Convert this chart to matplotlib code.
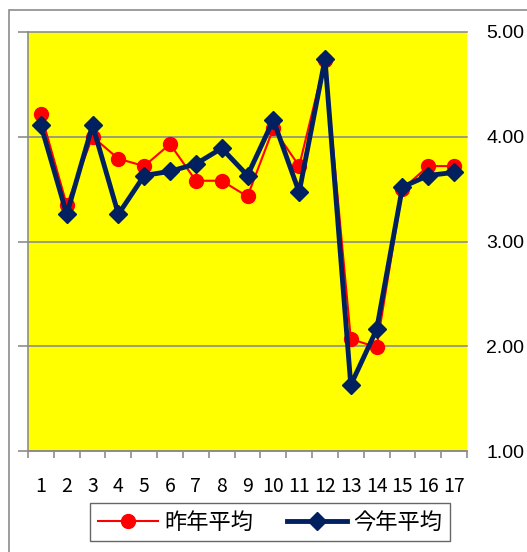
import matplotlib.pyplot as plt
import numpy as np
from matplotlib.patches import Rectangle

plt.rcParams['font.family'] = ['Noto Sans CJK JP', 'DejaVu Sans']

categories = [str(i) for i in range(1, 18)]
last_year = [4.22, 3.35, 4.00, 3.79, 3.72, 3.93, 3.58, 3.58, 3.43,
             4.08, 3.72, 4.73, 2.07, 1.99, 3.50, 3.72, 3.72]
this_year = [4.11, 3.26, 4.11, 3.26, 3.63, 3.67, 3.74, 3.89, 3.63,
             4.16, 3.47, 4.74, 1.63, 2.16, 3.52, 3.63, 3.66]
yticks = [1.0, 2.0, 3.0, 4.0, 5.0]

fig = plt.figure(figsize=(5.27, 5.52), dpi=100)
ax = fig.add_axes([28/527, 1-451/552, 439/527, 419/552])

# outer chart border (partly cut off like the original)
fig.patches.append(Rectangle((9/527, -0.1), 1.1, 1 - 10/552 + 0.1,
                             transform=fig.transFigure, fill=False,
                             edgecolor='#8c8c8c', linewidth=1.2))

x = np.arange(1, len(categories) + 1)
ax.set_facecolor('#FFFF00')
ax.plot(x, last_year, color='#FF0000', lw=1.5, marker='o', ms=10,
        label='昨年平均', zorder=3)
ax.plot(x, this_year, color='#002060', lw=3.5, marker='D', ms=9,
        label='今年平均', zorder=4)

ax.set_xlim(0.5, 17.5)
ax.set_ylim(1, 5)
ax.set_yticks(yticks)
ax.set_yticklabels([f'{v:.2f}' for v in yticks])
ax.yaxis.grid(True, color='#8c8c8c', lw=1.2, clip_on=False)
ax.set_axisbelow(True)

ax.set_xticks(x)
ax.set_xticklabels(categories)
ax.set_xticks(np.arange(0.5, 18.0, 1), minor=True)
ax.tick_params(axis='x', which='major', length=0, labelsize=14, pad=18)
ax.tick_params(axis='x', which='minor', length=5, color='#8c8c8c', width=1.2)
ax.tick_params(axis='y', left=True, right=False, labelleft=False,
               labelright=True, length=7, color='#8c8c8c', width=1.2,
               labelsize=14, pad=7)
for lbl in ax.get_yticklabels():
    lbl.set_fontfamily('Liberation Sans')

for s in ['top', 'right']:
    ax.spines[s].set_visible(False)
for s in ['left', 'bottom']:
    ax.spines[s].set_color('#8c8c8c')
    ax.spines[s].set_linewidth(1.2)

leg = fig.legend(loc='center', bbox_to_anchor=(270/527, 1-522/552),
                 ncol=2, fontsize=16, frameon=True, fancybox=False,
                 edgecolor='#404040', handlelength=2.7, columnspacing=1.5,
                 handletextpad=0.3, borderpad=0.35)
leg.get_frame().set_linewidth(1.0)

fig.savefig('out.png', dpi=100)
